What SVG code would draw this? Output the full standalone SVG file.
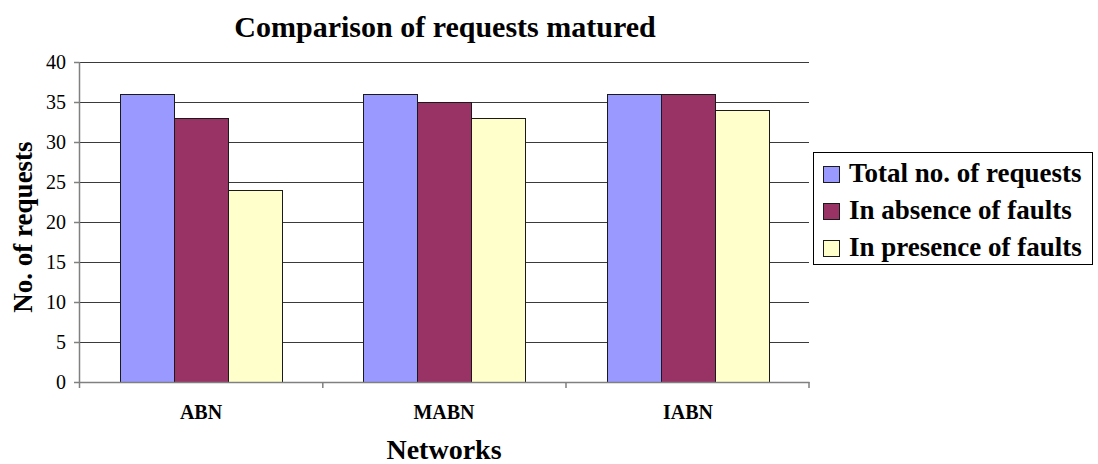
<svg xmlns="http://www.w3.org/2000/svg" width="1098" height="464" viewBox="0 0 1098 464">
  <style>
    text { font-family: "Liberation Serif", "Times New Roman", serif; fill: #000; }
    .title { font-size: 30px; font-weight: bold; text-anchor: middle; }
    .axis-title { font-size: 28px; font-weight: bold; text-anchor: middle; }
    .tick { font-size: 20px; text-anchor: end; }
    .cat { font-size: 20px; font-weight: bold; text-anchor: middle; }
    .legend-text { font-size: 27px; font-weight: bold; }
    .grid { stroke: #3a3a3a; stroke-width: 1; }
    .axis { stroke: #808080; stroke-width: 1.5; fill: none; }
    .bar { stroke: #1a1a1a; stroke-width: 1; }
    .s1 { fill: #9999FF; }
    .s2 { fill: #993366; }
    .s3 { fill: #FFFFCC; }
  </style>

  <rect x="0" y="0" width="1098" height="464" fill="#ffffff"/>

  <text class="title" x="445" y="37">Comparison of requests matured</text>

  <!-- horizontal gridlines, 5 units = 40px, 0 at y=382 -->
  <g id="gridlines">
    <line class="grid" x1="79" y1="62.5" x2="809" y2="62.5"/>
    <line class="grid" x1="79" y1="102.5" x2="809" y2="102.5"/>
    <line class="grid" x1="79" y1="142.5" x2="809" y2="142.5"/>
    <line class="grid" x1="79" y1="182.5" x2="809" y2="182.5"/>
    <line class="grid" x1="79" y1="222.5" x2="809" y2="222.5"/>
    <line class="grid" x1="79" y1="262.5" x2="809" y2="262.5"/>
    <line class="grid" x1="79" y1="302.5" x2="809" y2="302.5"/>
    <line class="grid" x1="79" y1="342.5" x2="809" y2="342.5"/>
  </g>

  <!-- bars -->
  <g id="series-total">
    <rect class="bar s1" x="120.5" y="94.5" width="54" height="288"/>
    <rect class="bar s1" x="363.5" y="94.5" width="54" height="288"/>
    <rect class="bar s1" x="607.5" y="94.5" width="54" height="288"/>
  </g>
  <g id="series-absence">
    <rect class="bar s2" x="174.5" y="118.5" width="54" height="264"/>
    <rect class="bar s2" x="417.5" y="102.5" width="54" height="280"/>
    <rect class="bar s2" x="661.5" y="94.5" width="54" height="288"/>
  </g>
  <g id="series-presence">
    <rect class="bar s3" x="228.5" y="190.5" width="54" height="192"/>
    <rect class="bar s3" x="471.5" y="118.5" width="54" height="264"/>
    <rect class="bar s3" x="715.5" y="110.5" width="54" height="272"/>
  </g>

  <!-- axes and tick marks -->
  <g id="axes">
    <path class="axis" d="M79.5 62 V388 M74 382.5 H809.5"/>
    <path class="axis" d="M74 62.5 H79.5 M74 102.5 H79.5 M74 142.5 H79.5 M74 182.5 H79.5 M74 222.5 H79.5 M74 262.5 H79.5 M74 302.5 H79.5 M74 342.5 H79.5"/>
    <path class="axis" d="M322.8 382 V388 M566 382 V388 M809 382 V388"/>
  </g>

  <g id="y-ticks">
    <text class="tick" x="66" y="69">40</text>
    <text class="tick" x="66" y="109">35</text>
    <text class="tick" x="66" y="149">30</text>
    <text class="tick" x="66" y="189">25</text>
    <text class="tick" x="66" y="229">20</text>
    <text class="tick" x="66" y="269">15</text>
    <text class="tick" x="66" y="309">10</text>
    <text class="tick" x="66" y="349">5</text>
    <text class="tick" x="66" y="389">0</text>
  </g>

  <g id="categories">
    <text class="cat" x="201" y="419">ABN</text>
    <text class="cat" x="444" y="419">MABN</text>
    <text class="cat" x="688" y="419">IABN</text>
  </g>

  <text class="axis-title" x="444" y="459">Networks</text>
  <text class="axis-title" style="font-size:27px" transform="translate(32 227) rotate(-90)">No. of requests</text>

  <!-- legend -->
  <g id="legend">
    <rect x="813.5" y="152.5" width="279" height="112" fill="#ffffff" stroke="#000" stroke-width="1"/>
    <rect class="bar s1" x="823.5" y="166.5" width="16" height="16"/>
    <text class="legend-text" x="849" y="182">Total no. of requests</text>
    <rect class="bar s2" x="823.5" y="203.5" width="16" height="16"/>
    <text class="legend-text" x="849" y="219">In absence of faults</text>
    <rect class="bar s3" x="823.5" y="240.5" width="16" height="16"/>
    <text class="legend-text" x="849" y="256">In presence of faults</text>
  </g>
</svg>
